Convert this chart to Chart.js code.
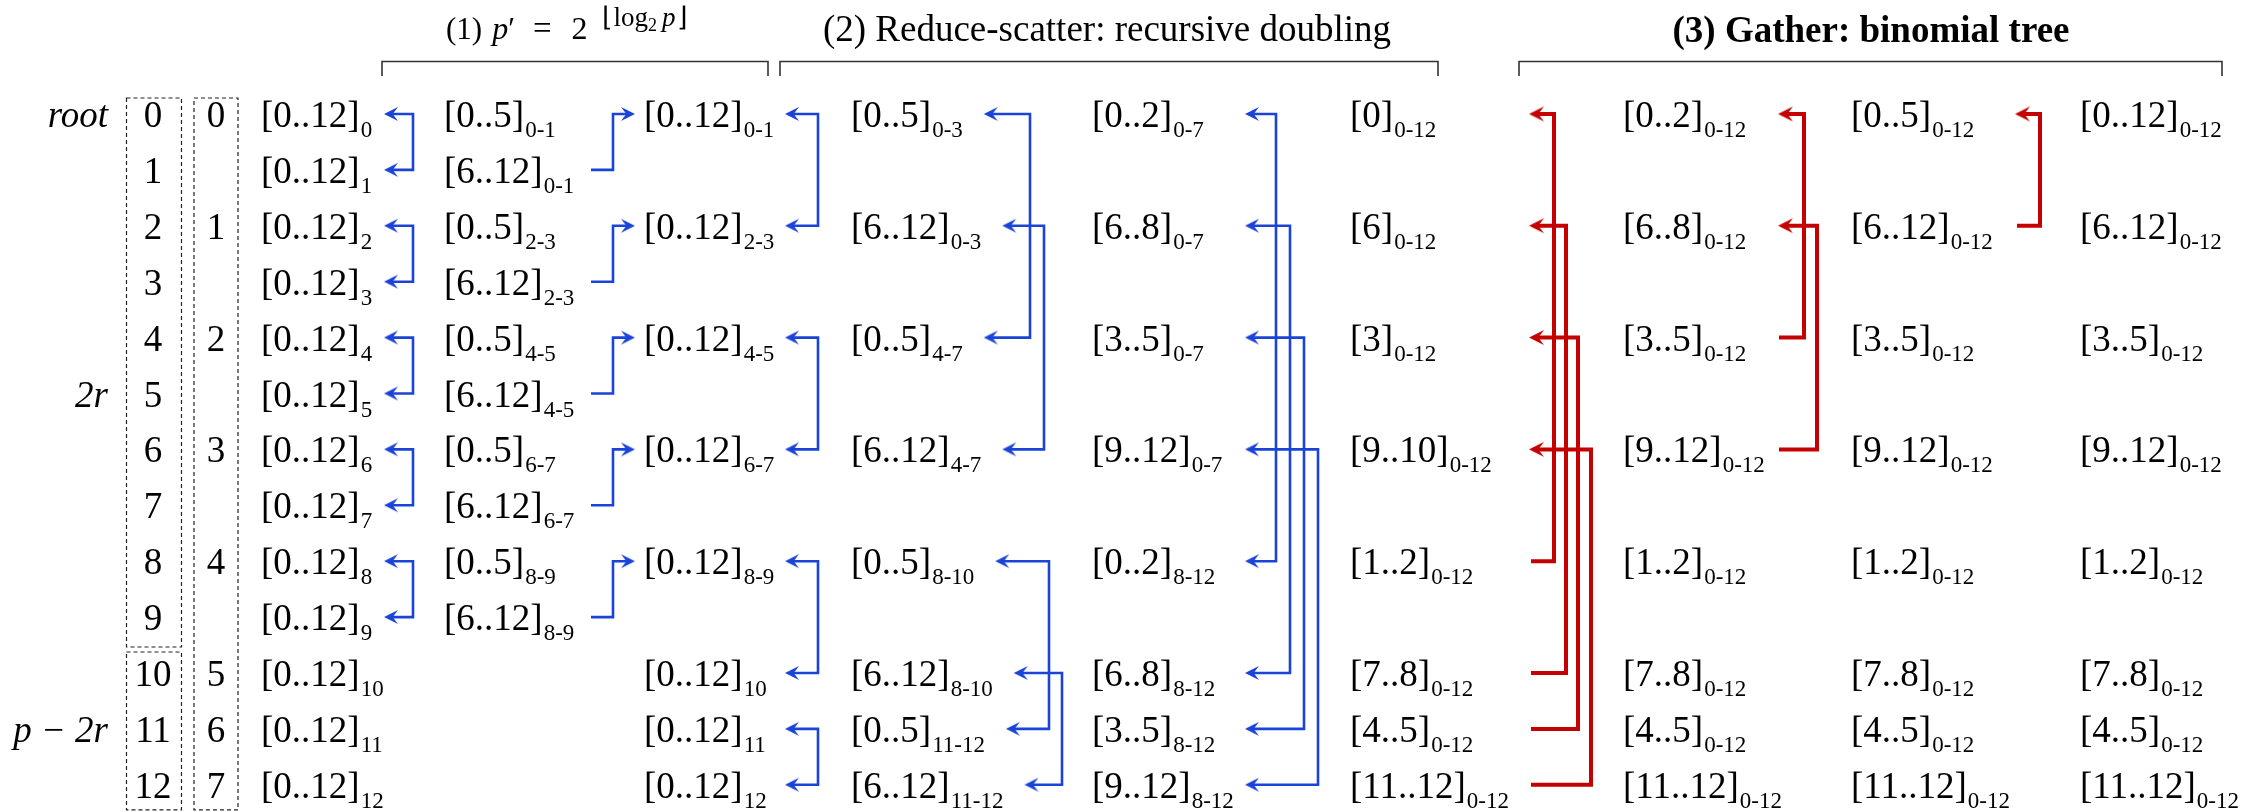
<!DOCTYPE html>
<html>
<head>
<meta charset="utf-8">
<script src="https://cdn.jsdelivr.net/npm/chart.js@4.4.1/dist/chart.umd.min.js"></script>
<style>
html,body{margin:0;padding:0;background:#ffffff;}
#wrap{width:2245px;height:812px;position:relative;}
</style>
</head>
<body>
<div id="wrap"><canvas id="c"></canvas></div>
<script>
// ================= DATA =================
// original process ranks (one row each)
const ranks = ['0','1','2','3','4','5','6','7','8','9','10','11','12'];
// new ranks after step (1), and the rows they sit on
const newRankRows = [0,2,4,6,8,10,11,12];
const newRanks = ['0','1','2','3','4','5','6','7'];
// group labels on the left
const groupLabels = ['root','2r','p \u2212 2r'];
const groupLabelRows = [0,5,11];

// column A : initial vectors
const rowsA = [0,1,2,3,4,5,6,7,8,9,10,11,12];
const mainA = ['[0..12]','[0..12]','[0..12]','[0..12]','[0..12]','[0..12]','[0..12]','[0..12]','[0..12]','[0..12]','[0..12]','[0..12]','[0..12]'];
const subA  = ['0','1','2','3','4','5','6','7','8','9','10','11','12'];
// column B : halves exchanged in step (1)
const rowsB = [0,1,2,3,4,5,6,7,8,9];
const mainB = ['[0..5]','[6..12]','[0..5]','[6..12]','[0..5]','[6..12]','[0..5]','[6..12]','[0..5]','[6..12]'];
const subB  = ['0-1','0-1','2-3','2-3','4-5','4-5','6-7','6-7','8-9','8-9'];
// column C : after step (1)
const rowsC = [0,2,4,6,8,10,11,12];
const mainC = ['[0..12]','[0..12]','[0..12]','[0..12]','[0..12]','[0..12]','[0..12]','[0..12]'];
const subC  = ['0-1','2-3','4-5','6-7','8-9','10','11','12'];
// column D : reduce-scatter, first doubling
const rowsD = [0,2,4,6,8,10,11,12];
const mainD = ['[0..5]','[6..12]','[0..5]','[6..12]','[0..5]','[6..12]','[0..5]','[6..12]'];
const subD  = ['0-3','0-3','4-7','4-7','8-10','8-10','11-12','11-12'];
// column E : reduce-scatter, second doubling
const rowsE = [0,2,4,6,8,10,11,12];
const mainE = ['[0..2]','[6..8]','[3..5]','[9..12]','[0..2]','[6..8]','[3..5]','[9..12]'];
const subE  = ['0-7','0-7','0-7','0-7','8-12','8-12','8-12','8-12'];
// column F : end of reduce-scatter
const rowsF = [0,2,4,6,8,10,11,12];
const mainF = ['[0]','[6]','[3]','[9..10]','[1..2]','[7..8]','[4..5]','[11..12]'];
const subF  = ['0-12','0-12','0-12','0-12','0-12','0-12','0-12','0-12'];
// columns G, H, I : binomial-tree gather
const rowsG = [0,2,4,6,8,10,11,12];
const mainG = ['[0..2]','[6..8]','[3..5]','[9..12]','[1..2]','[7..8]','[4..5]','[11..12]'];
const subG  = ['0-12','0-12','0-12','0-12','0-12','0-12','0-12','0-12'];
const rowsH = [0,2,4,6,8,10,11,12];
const mainH = ['[0..5]','[6..12]','[3..5]','[9..12]','[1..2]','[7..8]','[4..5]','[11..12]'];
const subH  = ['0-12','0-12','0-12','0-12','0-12','0-12','0-12','0-12'];
const rowsI = [0,2,4,6,8,10,11,12];
const mainI = ['[0..12]','[6..12]','[3..5]','[9..12]','[1..2]','[7..8]','[4..5]','[11..12]'];
const subI  = ['0-12','0-12','0-12','0-12','0-12','0-12','0-12','0-12'];

// communication steps: [row of one end, row of the other end]
const step1Pairs = [[0,1],[2,3],[4,5],[6,7],[8,9]];   // exchange halves (A)
const step2Pairs = [[1,0],[3,2],[5,4],[7,6],[9,8]];   // send reduced half B -> C
const step3Pairs = [[0,2],[4,6],[8,10],[11,12]];      // exchange (C)
const step4Pairs = [[0,4],[2,6],[8,11],[10,12]];      // exchange (D)
const step5Pairs = [[0,8],[2,10],[4,11],[6,12]];      // exchange (E)
const step6Pairs = [[8,0],[10,2],[11,4],[12,6]];      // gather F -> G
const step7Pairs = [[4,0],[6,2]];                     // gather G -> H
const step8Pairs = [[2,0]];                           // gather H -> I

const titles = ['(2) Reduce-scatter: recursive doubling','(3) Gather: binomial tree'];

// ================= LAYOUT / STYLE =================
const BLUE = '#1a44d8', RED = '#c40000';
const FONT = '"Liberation Serif", "Times New Roman", serif';
const MAIN_PX = 37, SUB_PX = 23;
const ROW0_PX = 114, ROW_STEP = 55.9;           // used only for y-axis range
const colX = {A:261,B:444,C:644,D:851,E:1092,F:1350,G:1623,H:1851,I:2080};
const columns = [
  {x:colX.A, rows:rowsA, main:mainA, sub:subA},
  {x:colX.B, rows:rowsB, main:mainB, sub:subB},
  {x:colX.C, rows:rowsC, main:mainC, sub:subC},
  {x:colX.D, rows:rowsD, main:mainD, sub:subD},
  {x:colX.E, rows:rowsE, main:mainE, sub:subE},
  {x:colX.F, rows:rowsF, main:mainF, sub:subF},
  {x:colX.G, rows:rowsG, main:mainG, sub:subG},
  {x:colX.H, rows:rowsH, main:mainH, sub:subH},
  {x:colX.I, rows:rowsI, main:mainI, sub:subI}
];

const mctx = document.createElement('canvas').getContext('2d');
function labelEnd(col, row){
  const i = col.rows.indexOf(row);
  mctx.font = MAIN_PX + 'px ' + FONT;
  let w = mctx.measureText(col.main[i]).width;
  mctx.font = SUB_PX + 'px ' + FONT;
  w += 1 + mctx.measureText(col.sub[i]).width;
  return col.x + w;
}

const steps = [
  {pairs:step1Pairs, kind:'exchange', tip:384, lanes:[413], color:'blue'},
  {pairs:step2Pairs, kind:'send', start:591, lanes:[613], tip:635, dir:1, color:'blue'},
  {pairs:step3Pairs, kind:'exchange', tip:785, lanes:[818], color:'blue'},
  {pairs:step4Pairs, kind:'exchange', tipCol:columns[3], gap:21, lanes:[1030,1044,1049,1062], color:'blue'},
  {pairs:step5Pairs, kind:'exchange', tip:1245, lanes:[1276,1290,1304,1318], color:'blue'},
  {pairs:step6Pairs, kind:'send', start:1531, lanes:[1554,1566,1578,1591], tip:1529, dir:-1, color:'red'},
  {pairs:step7Pairs, kind:'send', start:1779, lanes:[1804,1817], tip:1778, dir:-1, color:'red'},
  {pairs:step8Pairs, kind:'send', start:2017, lanes:[2040], tip:2015, dir:-1, color:'red'}
];
const STYLE = {
  blue:{color:BLUE, width:2.6, headL:14, headW:7},
  red:{color:RED, width:4, headL:15, headW:7.5}
};

function makeHead(st){
  const c = document.createElement('canvas');
  const L = st.headL, W = st.headW;
  c.width = Math.ceil(2*L + 4); c.height = Math.ceil(2*W + 4);
  const g = c.getContext('2d');
  const cx = c.width/2, cy = c.height/2;
  g.fillStyle = st.color;
  g.beginPath();
  g.moveTo(cx, cy);
  g.lineTo(cx - L, cy - W);
  g.lineTo(cx - L*0.62, cy);
  g.lineTo(cx - L, cy + W);
  g.closePath();
  g.fill();
  return c;
}

// ---- build connector datasets from the step data ----
const datasets = [];
const heads = {blue:[], red:[]};
steps.forEach(s => {
  const st = STYLE[s.color];
  const inset = st.headL * 0.55;
  s.pairs.forEach((p, i) => {
    const lane = s.lanes[Math.min(i, s.lanes.length - 1)];
    const r1 = p[0], r2 = p[1];
    let pts;
    if (s.kind === 'exchange') {
      const t1 = s.tipCol ? labelEnd(s.tipCol, r1) + s.gap : s.tip;
      const t2 = s.tipCol ? labelEnd(s.tipCol, r2) + s.gap : s.tip;
      pts = [{x:t1 + inset, y:r1}, {x:lane, y:r1}, {x:lane, y:r2}, {x:t2 + inset, y:r2}];
      heads[s.color].push({x:t1, y:r1, rot:180});
      heads[s.color].push({x:t2, y:r2, rot:180});
    } else {
      pts = [{x:s.start, y:r1}, {x:lane, y:r1}, {x:lane, y:r2}, {x:s.tip - s.dir*inset, y:r2}];
      heads[s.color].push({x:s.tip, y:r2, rot:s.dir > 0 ? 0 : 180});
    }
    datasets.push({
      data: pts, showLine: true, borderColor: st.color, borderWidth: st.width,
      pointRadius: 0, pointHoverRadius: 0, fill: false, tension: 0,
      borderJoinStyle: 'miter', borderCapStyle: 'butt'
    });
  });
});
['blue','red'].forEach(k => {
  const img = makeHead(STYLE[k]);
  datasets.push({
    data: heads[k], showLine: false, pointStyle: img, pointRadius: 8, pointHoverRadius: 8,
    pointRotation: ctx => (ctx.raw ? ctx.raw.rot : 0)
  });
});

// ---- text / frame plugin ----
function drawRuns(ctx, runs, x0, base, centered){
  let total = 0;
  runs.forEach(r => { ctx.font = r.f; r.w = ctx.measureText(r.t).width; total += r.w + (r.gap || 0); });
  let x = centered ? x0 - total/2 : x0;
  runs.forEach(r => { x += (r.gap || 0); ctx.font = r.f; ctx.fillText(r.t, x, base + (r.dy || 0)); x += r.w; });
}

const textPlugin = {
  id: 'diagramText',
  afterDatasetsDraw(chart){
    const ctx = chart.ctx, xs = chart.scales.x, ys = chart.scales.y;
    const X = v => xs.getPixelForValue(v), Y = v => ys.getPixelForValue(v);
    ctx.save();
    ctx.fillStyle = '#000';
    ctx.textBaseline = 'alphabetic';
    // value columns
    columns.forEach(col => {
      col.rows.forEach((r, i) => {
        const y = Y(r);
        ctx.textAlign = 'left';
        ctx.font = MAIN_PX + 'px ' + FONT;
        const w = ctx.measureText(col.main[i]).width;
        ctx.fillText(col.main[i], X(col.x), y + 13);
        ctx.font = SUB_PX + 'px ' + FONT;
        ctx.fillText(col.sub[i], X(col.x) + w + 1, y + 23);
      });
    });
    // rank numbers
    ctx.textAlign = 'center';
    ctx.font = MAIN_PX + 'px ' + FONT;
    ranks.forEach((t, i) => ctx.fillText(t, X(153), Y(i) + 13));
    newRanks.forEach((t, i) => ctx.fillText(t, X(216), Y(newRankRows[i]) + 13));
    // group labels
    ctx.textAlign = 'right';
    ctx.font = 'italic ' + MAIN_PX + 'px ' + FONT;
    groupLabels.forEach((t, i) => ctx.fillText(t, X(108), Y(groupLabelRows[i]) + 13));
    // dashed rank boxes
    ctx.strokeStyle = '#222';
    ctx.lineWidth = 1.2;
    ctx.setLineDash([4, 3]);
    const box = (x1, r1, x2, r2) => { ctx.strokeRect(X(x1), Y(r1), X(x2) - X(x1), Y(r2) - Y(r1)); };
    box(126.5, -0.286, 181.5, 9.535);
    box(126.5, 9.624, 181.5, 12.45);
    box(194, -0.286, 238, 12.45);
    ctx.setLineDash([]);
    // brackets
    ctx.strokeStyle = '#333';
    ctx.lineWidth = 1.6;
    [[382,768],[780,1438],[1519,2222]].forEach(b => {
      ctx.beginPath();
      ctx.moveTo(X(b[0]), 76); ctx.lineTo(X(b[0]), 61.5); ctx.lineTo(X(b[1]), 61.5); ctx.lineTo(X(b[1]), 76);
      ctx.stroke();
    });
    // titles
    ctx.textAlign = 'left';
    const f = (s, px) => s + ' ' + px + 'px ' + FONT;
    drawRuns(ctx, [
      {t:'(1)', f:f('', 31)},
      {t:'p', f:f('italic', 32), gap:10},
      {t:'\u2032', f:f('', 31)},
      {t:'=', f:f('', 33), gap:18},
      {t:'2', f:f('', 32), gap:20},
      {t:'\u230A', f:f('', 27), dy:-13, gap:14},
      {t:'log', f:f('', 27), dy:-13, gap:1},
      {t:'2', f:f('', 18), dy:-8},
      {t:'p', f:f('italic', 27), dy:-13, gap:5},
      {t:'\u230B', f:f('', 27), dy:-13, gap:1}
    ], X(446), 39, false);
    drawRuns(ctx, [{t:titles[0], f:f('', 37)}], X(1107), 41, true);
    drawRuns(ctx, [{t:titles[1], f:f('bold', 37)}], X(1871), 42, true);
    ctx.restore();
  }
};

new Chart(document.getElementById('c'), {
  type: 'scatter',
  data: { datasets },
  options: {
    responsive: true,
    maintainAspectRatio: false,
    animation: false,
    devicePixelRatio: 1,
    layout: { padding: 0, autoPadding: false },
    events: [],
    plugins: { legend: {display:false}, tooltip: {enabled:false}, title: {display:false} },
    scales: {
      x: { type:'linear', min:0, max:2245, display:false },
      y: { type:'linear', reverse:true, min:-ROW0_PX/ROW_STEP, max:(812-ROW0_PX)/ROW_STEP, display:false }
    }
  },
  plugins: [textPlugin]
});
</script>
</body>
</html>
